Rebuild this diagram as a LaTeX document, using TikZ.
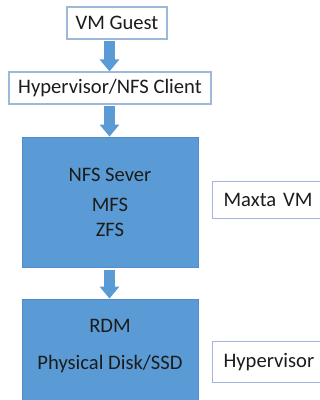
\documentclass[tikz,border=0pt]{standalone}
\usepackage{fontspec}
\setmainfont{Carlito}
\usetikzlibrary{arrows.meta,calc}
\definecolor{boxblue}{HTML}{5B9BD5}
\definecolor{boxedge}{HTML}{4F8CC9}
\definecolor{lightedge}{HTML}{9DB8DA}
\definecolor{txt}{HTML}{1C1C1C}
\tikzset{
  lightbox/.style={draw=lightedge, line width=1.1pt, fill=white, text=txt, inner sep=0pt, font=\fontsize{20.6}{24}\selectfont},
  bluebox/.style={draw=boxedge, line width=0.8pt, fill=boxblue, text=txt, inner sep=0pt, font=\fontsize{20.6}{24}\selectfont, align=center},
  bluetext/.style={text=txt, inner sep=0pt, font=\fontsize{20.6}{24}\selectfont, align=center},
  blockarrow/.style={draw=boxblue, line width=11pt, line cap=butt, -{Triangle[length=12pt, width=19pt]}},
}
\begin{document}
\begin{tikzpicture}[x=1pt, y=-1pt]
\useasboundingbox (0,0) rectangle (320,400);
\clip (0,0) rectangle (320,400);
\node[lightbox, minimum width=100pt, minimum height=32pt] (vm) at (117,23) {VM Guest};
\node[lightbox, minimum width=202pt, minimum height=32pt] (hyp) at (110,88) {Hypervisor/NFS Client};
\node[bluebox, minimum width=176pt, minimum height=130pt] (nfs) at (110,202) {NFS Sever\\[6pt]MFS\\[1pt]ZFS};
\node[bluebox, minimum width=176pt, minimum height=115pt] (rdm) at (110,356.5) {};
\node[bluetext] (rdmtext) at ($(rdm.north)+(0,47.5)$) {RDM\\[13pt]Physical Disk/SSD};
\node[lightbox, anchor=north west, minimum height=37pt, text width=100pt, inner xsep=11pt, align=left] (maxta) at (212,181) {Maxta VM};
\node[lightbox, anchor=north west, minimum height=41pt, text width=100pt, inner xsep=11pt, align=left] (hv) at (212,341) {Hypervisor};
\coordinate (ax) at (109.5,0);
\draw[blockarrow] ($(vm.south -| ax)+(0,1.5)$) -- (hyp.north -| ax);
\draw[blockarrow] ($(hyp.south -| ax)+(0,1)$) -- (nfs.north -| ax);
\draw[blockarrow] ($(nfs.south -| ax)+(0,2.5)$) -- (rdm.north -| ax);
\end{tikzpicture}
\end{document}
